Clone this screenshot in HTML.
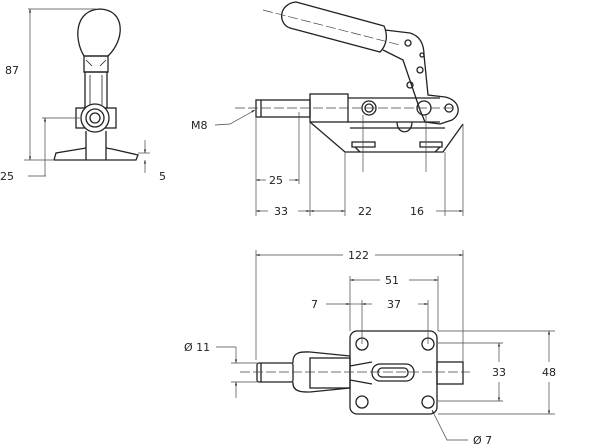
<!DOCTYPE html>
<html><head><style>
html,body{margin:0;padding:0;background:#fff;}
svg{display:block;}
text{font-family:"DejaVu Sans","Liberation Sans",sans-serif;font-size:11px;fill:#222;}
</style></head><body>
<svg width="600" height="448" viewBox="0 0 600 448" xmlns="http://www.w3.org/2000/svg">
<defs>
<marker id="a" viewBox="0 0 10 10" refX="10" refY="5" markerWidth="7" markerHeight="5" orient="auto-start-reverse"><path d="M0,2 L10,5 L0,8 z" fill="#222"/></marker>
</defs>
<g fill="none" stroke="#222" stroke-width="1.3">
<!-- FRONT VIEW -->
<path d="M84,56 C74,40 74,10 100,9 C126,10 125,40 108,56 Z"/>
<rect x="84" y="56" width="24" height="16"/>
<path d="M86,60 L92,66 M106,60 L100,66" stroke-width="0.8"/>
<rect x="85" y="72" width="22" height="36"/>
<line x1="90" y1="75" x2="90" y2="105" stroke-width="0.8"/>
<line x1="102" y1="75" x2="102" y2="105" stroke-width="0.8"/>
<rect x="76" y="108" width="40" height="20"/>
<circle cx="95" cy="118" r="14" fill="#fff"/>
<circle cx="95" cy="118" r="9"/>
<circle cx="95" cy="118" r="5"/>
<path d="M86,131 L86,160 M106,131 L106,160"/>
<path d="M54,160 L136,160 L138,155 L112,149 L106,148 M86,148 L80,149 L56,153 L54,160" />
<!-- SIDE VIEW -->
<path d="M296,2 L384,26 C388,35 387,45 380,52 L290,28 C278,24 278,4 296,2 Z"/>
<path d="M385,30 L410,33 C420,36 424,44 424,55 L428,95 L445,97 C460,100 462,114 452,120 L440,124 L425,122 L420,110 L403,60 L383,50"/>
<circle cx="408" cy="43" r="3"/><circle cx="420" cy="70" r="3"/><circle cx="410" cy="85" r="3"/>
<circle cx="422" cy="55" r="2"/>
<rect x="256" y="100" width="54" height="17"/>
<line x1="261" y1="100" x2="261" y2="117"/>
<rect x="310" y="94" width="38" height="28"/>
<path d="M348,98 L440,98 M348,122 L440,122 M350,128 L445,128"/>
<circle cx="369" cy="108" r="7"/><circle cx="369" cy="108" r="4"/>
<circle cx="424" cy="108" r="7"/>
<circle cx="449" cy="108" r="4"/>
<path d="M397,122 C397,135 412,135 412,122"/>
<path d="M310,122 L345,152 L443,152 L463,124"/>
<path d="M352,142 L375,142 L375,147 L352,147 Z M420,142 L442,142 L442,147 L420,147 Z"/>
<path d="M355,147 L360,152 M440,147 L435,152"/>
<!-- BOTTOM VIEW -->
<rect x="350" y="331" width="87" height="83" rx="7"/>
<circle cx="362" cy="344" r="6"/><circle cx="428" cy="344" r="6"/>
<circle cx="362" cy="402" r="6"/><circle cx="428" cy="402" r="6"/>
<rect x="437" y="362" width="26" height="22"/>
<rect x="257" y="363" width="36" height="19" rx="2"/>
<line x1="261" y1="363" x2="261" y2="382"/>
<path d="M293,363 C292,350 305,352 310,352 L350,356 M293,382 C292,393 305,392 310,392 L350,388"/>
<rect x="310" y="358" width="40" height="30"/>
<path d="M350,366 L372,362 M350,380 L372,384"/>
<rect x="372" y="364" width="42" height="17" rx="8"/>
<rect x="378" y="368" width="30" height="9" rx="4"/>
</g>
<g fill="none" stroke="#444" stroke-width="0.7">
<line x1="28" y1="9" x2="96" y2="9"/><line x1="24" y1="160" x2="54" y2="160"/>
<line x1="30" y1="9" x2="30" y2="160" marker-start="url(#a)" marker-end="url(#a)"/>
<line x1="42" y1="118" x2="80" y2="118"/><line x1="28" y1="176" x2="46" y2="176"/>
<line x1="45" y1="118" x2="45" y2="160" marker-start="url(#a)"/>
<line x1="45" y1="160" x2="45" y2="176"/>
<line x1="138" y1="153" x2="150" y2="153"/>
<line x1="145" y1="140" x2="145" y2="153" marker-end="url(#a)"/>
<line x1="145" y1="173" x2="145" y2="160" marker-end="url(#a)"/>
<line x1="256" y1="118" x2="256" y2="216"/><line x1="299" y1="112" x2="299" y2="184"/>
<line x1="310" y1="122" x2="310" y2="216"/><line x1="345" y1="152" x2="345" y2="216"/>
<line x1="445" y1="152" x2="445" y2="216"/><line x1="463" y1="124" x2="463" y2="216"/>
<line x1="363" y1="115" x2="363" y2="172"/><line x1="426" y1="115" x2="426" y2="172"/>
<line x1="256" y1="180" x2="266" y2="180" marker-start="url(#a)"/><line x1="289" y1="180" x2="299" y2="180" marker-end="url(#a)"/>
<line x1="256" y1="211" x2="268" y2="211" marker-start="url(#a)"/><line x1="298" y1="211" x2="310" y2="211" marker-end="url(#a)"/>
<line x1="310" y1="211" x2="345" y2="211" marker-start="url(#a)" marker-end="url(#a)"/>
<line x1="436" y1="211" x2="463" y2="211" marker-end="url(#a)"/>
<line x1="263" y1="10" x2="400" y2="45" stroke-dasharray="10,3"/>
<line x1="235" y1="108" x2="455" y2="108" stroke-dasharray="10,3"/>
<path d="M215,125 L230,124 L255,110" marker-end="url(#a)"/>
<line x1="256" y1="250" x2="256" y2="360"/><line x1="463" y1="250" x2="463" y2="362"/>
<line x1="256" y1="255" x2="343" y2="255" marker-start="url(#a)"/><line x1="375" y1="255" x2="463" y2="255" marker-end="url(#a)"/>
<line x1="350" y1="276" x2="350" y2="331"/><line x1="438" y1="276" x2="438" y2="331"/>
<line x1="350" y1="280" x2="380" y2="280" marker-start="url(#a)"/><line x1="409" y1="280" x2="438" y2="280" marker-end="url(#a)"/>
<line x1="362" y1="300" x2="362" y2="344"/><line x1="428" y1="300" x2="428" y2="344"/>
<line x1="326" y1="304" x2="350" y2="304" marker-end="url(#a)"/>
<line x1="350" y1="304" x2="362" y2="304"/>
<line x1="362" y1="304" x2="372" y2="304" marker-start="url(#a)"/><line x1="418" y1="304" x2="428" y2="304" marker-end="url(#a)"/>
<line x1="438" y1="331" x2="555" y2="331"/><line x1="438" y1="414" x2="555" y2="414"/>
<line x1="438" y1="343" x2="503" y2="343"/><line x1="438" y1="401" x2="503" y2="401"/>
<line x1="499" y1="343" x2="499" y2="362" marker-start="url(#a)"/><line x1="499" y1="382" x2="499" y2="401" marker-end="url(#a)"/>
<line x1="549" y1="331" x2="549" y2="362" marker-start="url(#a)"/><line x1="549" y1="382" x2="549" y2="414" marker-end="url(#a)"/>
<line x1="231" y1="363" x2="257" y2="363"/><line x1="231" y1="382" x2="257" y2="382"/>
<line x1="216" y1="347" x2="236" y2="347"/>
<line x1="236" y1="347" x2="236" y2="363" marker-end="url(#a)"/>
<line x1="236" y1="398" x2="236" y2="382" marker-end="url(#a)"/>
<line x1="240" y1="372" x2="470" y2="372" stroke-dasharray="10,3"/>
<path d="M468,440 L447,440 L432,410" marker-end="url(#a)"/>
</g>
<text x="5" y="74">87</text>
<text x="0" y="180">25</text>
<text x="159" y="180">5</text>
<text x="191" y="129">M8</text>
<text x="269" y="184">25</text>
<text x="274" y="215">33</text>
<text x="358" y="215">22</text>
<text x="410" y="215">16</text>
<text x="348" y="259">122</text>
<text x="385" y="284">51</text>
<text x="311" y="308">7</text>
<text x="387" y="308">37</text>
<text x="184" y="351">Ø 11</text>
<text x="492" y="376">33</text>
<text x="542" y="376">48</text>
<text x="473" y="444">Ø 7</text>
</svg>
</body></html>
